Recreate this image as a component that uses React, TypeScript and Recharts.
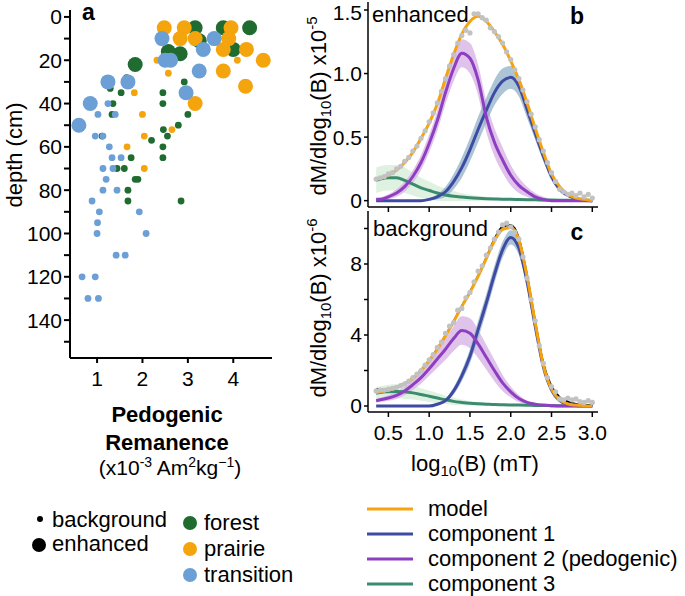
import { ScatterChart, ComposedChart, Scatter, Line, Area, XAxis, YAxis } from 'recharts';

const FONT = '"Liberation Sans", Arial, Helvetica, sans-serif';

// panel a: [pedogenic remanence, depth]
const forestEnhanced = [[3.16, 5], [3.78, 5], [4.36, 5], [3.25, 11], [2.57, 16], [2.83, 17], [4.0, 15], [1.84, 22]];
const prairieEnhanced = [[2.48, 5], [2.92, 5], [3.95, 5], [2.83, 10], [3.16, 10], [3.9, 10], [3.78, 15], [4.29, 15], [4.66, 20], [3.78, 25], [4.27, 32], [3.16, 40]];
const transitionEnhanced = [[2.43, 10], [3.58, 10], [3.34, 15], [2.5, 20], [2.62, 20], [3.25, 25], [2.96, 35], [1.24, 30], [1.68, 30], [0.85, 40], [0.6, 50]];
const forestBackground = [[2.92, 30], [2.45, 35], [2.45, 40], [3.0, 45], [1.53, 35], [1.35, 40], [1.33, 45], [1.29, 33], [1.65, 28], [2.79, 50], [2.46, 52], [2.55, 55], [2.2, 57], [2.45, 60], [2.45, 65], [1.75, 65], [1.11, 55], [1.44, 70], [1.6, 70], [1.84, 75], [1.9, 75], [1.68, 80], [1.68, 85], [2.85, 85]];
const prairieBackground = [[2.32, 20], [2.57, 26], [4.09, 20], [1.82, 35], [2.0, 45], [2.65, 52], [2.04, 55], [1.66, 60], [2.04, 70]];
const transitionBackground = [[1.24, 40], [1.02, 45], [1.4, 45], [0.96, 55], [1.13, 55], [1.27, 60], [1.33, 65], [1.53, 65], [1.13, 70], [1.35, 70], [1.2, 75], [1.13, 80], [1.44, 80], [0.89, 85], [1.05, 90], [1.93, 90], [1.01, 95], [1.0, 100], [2.08, 100], [1.42, 110], [1.62, 110], [0.67, 120], [0.96, 120], [0.8, 130], [1.03, 130]];

const depthTicks = [0, 10, 20, 30, 40, 50, 60, 70, 80, 90, 100, 110, 120, 130, 140, 150];
const remTicks = [1, 2, 3, 4];

// panels b, c: log10(B) grid
const logB = [0.35, 0.4, 0.5, 0.6, 0.7, 0.8, 0.9, 1.0, 1.1, 1.2, 1.3, 1.4, 1.5, 1.6, 1.7, 1.8, 1.9, 2.0, 2.1, 2.2, 2.3, 2.4, 2.5, 2.6, 2.7, 2.8, 2.9, 3.0];
const logTicks = [0.5, 1.0, 1.5, 2.0, 2.5, 3.0];

// enhanced (x1e-5)
const modelB = [0.17, 0.18, 0.2, 0.24, 0.3, 0.38, 0.49, 0.61, 0.76, 0.96, 1.15, 1.31, 1.41, 1.45, 1.41, 1.33, 1.23, 1.1, 0.95, 0.77, 0.57, 0.38, 0.21, 0.11, 0.05, 0.02, 0.01, 0];
const comp1B = [0, 0, 0, 0, 0, 0, 0, 0.01, 0.03, 0.07, 0.15, 0.26, 0.4, 0.56, 0.71, 0.85, 0.94, 0.97, 0.9, 0.72, 0.53, 0.35, 0.19, 0.09, 0.04, 0.015, 0.005, 0];
const comp2B = [0.01, 0.01, 0.03, 0.06, 0.11, 0.19, 0.3, 0.45, 0.63, 0.85, 1.04, 1.16, 1.12, 0.95, 0.66, 0.46, 0.32, 0.2, 0.12, 0.07, 0.03, 0.01, 0, 0, 0, 0, 0, 0];
const comp3B = [0.16, 0.17, 0.18, 0.18, 0.16, 0.13, 0.1, 0.08, 0.06, 0.045, 0.035, 0.028, 0.022, 0.018, 0.015, 0.013, 0.011, 0.01, 0.009, 0.008, 0.007, 0.006, 0.005, 0.004, 0.003, 0.002, 0.001, 0];
const band1B = [0, 0, 0, 0, 0, 0, 0, 0.01, 0.02, 0.04, 0.06, 0.08, 0.09, 0.1, 0.1, 0.1, 0.1, 0.09, 0.08, 0.07, 0.05, 0.04, 0.03, 0.02, 0.01, 0.005, 0, 0];
const band2B = [0.01, 0.015, 0.02, 0.03, 0.04, 0.05, 0.06, 0.07, 0.08, 0.09, 0.1, 0.11, 0.12, 0.12, 0.12, 0.11, 0.1, 0.08, 0.06, 0.04, 0.03, 0.02, 0.01, 0, 0, 0, 0, 0];
const band3B = [0.1, 0.1, 0.1, 0.1, 0.1, 0.09, 0.08, 0.07, 0.06, 0.05, 0.04, 0.03, 0.025, 0.02, 0.015, 0.012, 0.01, 0.01, 0.008, 0.008, 0.006, 0.005, 0.005, 0.004, 0.003, 0.002, 0.001, 0];
const dotsB = [[0.35, 0.17], [0.4, 0.18], [0.45, 0.19], [0.5, 0.21], [0.55, 0.22], [0.6, 0.25], [0.65, 0.27], [0.7, 0.31], [0.75, 0.34], [0.8, 0.39], [0.85, 0.43], [0.9, 0.49], [0.95, 0.55], [1.0, 0.62], [1.05, 0.69], [1.1, 0.77], [1.15, 0.86], [1.2, 0.96], [1.25, 1.06], [1.3, 1.15], [1.35, 1.24], [1.4, 1.3], [1.45, 1.34], [1.5, 1.32], [1.55, 1.47], [1.6, 1.47], [1.65, 1.44], [1.7, 1.42], [1.75, 1.36], [1.8, 1.33], [1.85, 1.29], [1.9, 1.24], [1.95, 1.17], [2.0, 1.11], [2.05, 1.03], [2.1, 0.96], [2.15, 0.87], [2.2, 0.78], [2.25, 0.68], [2.3, 0.58], [2.35, 0.48], [2.4, 0.39], [2.45, 0.3], [2.5, 0.22], [2.55, 0.15], [2.6, 0.09], [2.65, 0.07], [2.7, 0.05], [2.75, 0.06], [2.8, 0.04], [2.85, 0.06], [2.9, 0.03], [2.95, 0.05], [3.0, 0.02]];

// background (x1e-6)
const modelC = [0.75, 0.8, 0.9, 1.05, 1.25, 1.55, 2.0, 2.55, 3.2, 3.95, 4.75, 5.6, 6.4, 7.3, 8.3, 9.3, 9.95, 10.05, 9.35, 7.3, 4.7, 2.3, 0.95, 0.35, 0.12, 0.05, 0.02, 0];
const smoothC = [0.95, 0.93, 0.95, 1.08, 1.27, 1.57, 2.02, 2.57, 3.22, 3.97, 4.77, 5.62, 6.42, 7.33, 8.35, 9.4, 10.1, 10.2, 9.45, 7.35, 4.75, 2.4, 1.1, 0.5, 0.25, 0.12, 0.06, 0.03];
const comp1C = [0, 0, 0, 0, 0, 0, 0, 0, 0.1, 0.3, 0.85, 1.7, 2.8, 4.3, 5.8, 7.4, 8.8, 9.5, 8.9, 7.0, 4.5, 2.2, 0.9, 0.3, 0.1, 0.03, 0.01, 0];
const comp2C = [0.3, 0.35, 0.45, 0.6, 0.85, 1.2, 1.6, 2.1, 2.65, 3.2, 3.8, 4.25, 4.1, 3.5, 2.75, 2.0, 1.3, 0.8, 0.42, 0.2, 0.1, 0.05, 0.02, 0, 0, 0, 0, 0];
const comp3C = [0.72, 0.76, 0.8, 0.82, 0.8, 0.74, 0.65, 0.55, 0.45, 0.35, 0.26, 0.2, 0.15, 0.12, 0.1, 0.08, 0.07, 0.06, 0.05, 0.04, 0.03, 0.03, 0.02, 0.02, 0.01, 0.01, 0.01, 0];
const band1C = [0, 0, 0, 0, 0, 0, 0, 0, 0.05, 0.1, 0.2, 0.3, 0.4, 0.5, 0.5, 0.5, 0.45, 0.4, 0.4, 0.35, 0.3, 0.2, 0.1, 0.05, 0.02, 0, 0, 0];
const band2C = [0.1, 0.12, 0.15, 0.2, 0.25, 0.3, 0.35, 0.4, 0.5, 0.6, 0.7, 0.8, 0.85, 0.8, 0.7, 0.6, 0.45, 0.3, 0.2, 0.1, 0.05, 0.03, 0.01, 0, 0, 0, 0, 0];
const band3C = [0.35, 0.35, 0.4, 0.4, 0.4, 0.38, 0.35, 0.32, 0.28, 0.24, 0.2, 0.16, 0.12, 0.1, 0.08, 0.06, 0.05, 0.04, 0.03, 0.03, 0.02, 0.02, 0.01, 0.01, 0.01, 0, 0, 0];
const dotsC = [[0.35, 0.85], [0.4, 0.9], [0.45, 0.9], [0.5, 0.95], [0.55, 1.0], [0.6, 1.05], [0.65, 1.15], [0.7, 1.25], [0.75, 1.4], [0.8, 1.6], [0.85, 1.8], [0.9, 2.0], [0.95, 2.3], [1.0, 2.6], [1.05, 2.9], [1.1, 3.3], [1.15, 3.6], [1.2, 4.1], [1.25, 4.5], [1.3, 4.7], [1.35, 5.4], [1.4, 5.5], [1.45, 6.1], [1.5, 6.4], [1.55, 7.0], [1.6, 7.6], [1.65, 7.9], [1.7, 8.5], [1.75, 8.9], [1.8, 9.4], [1.85, 9.8], [1.9, 10.2], [1.95, 10.3], [2.0, 10.1], [2.05, 9.8], [2.1, 9.4], [2.15, 8.4], [2.2, 7.2], [2.25, 6.0], [2.3, 4.8], [2.35, 3.4], [2.4, 2.4], [2.45, 1.6], [2.5, 1.1], [2.55, 0.8], [2.6, 0.4], [2.65, 0.35], [2.7, 0.45], [2.75, 0.35], [2.8, 0.4], [2.85, 0.25], [2.9, 0.2], [2.95, 0.3], [3.0, 0.2]];

const GREEN = '#1f6b30';
const ORANGE = '#f4a40c';
const BLUE = '#6b9fd6';
const C_MODEL = '#f5a30f';
const C1 = '#3f4ba3';
const C2 = '#8e3ec0';
const C3 = '#3b8b6e';

const toPts = (big: number[][], small: number[][]) => [
  ...small.map(([x, d]) => ({ x, d, big: false })),
  ...big.map(([x, d]) => ({ x, d, big: true })),
];

const rowsB = logB.map((x, i) => ({
  x,
  model: modelB[i],
  c1: comp1B[i],
  c2: comp2B[i],
  c3: comp3B[i],
  b1: [comp1B[i] - band1B[i], comp1B[i] + band1B[i]],
  b2: [comp2B[i] - band2B[i], comp2B[i] + band2B[i]],
  b3: [comp3B[i] - band3B[i], comp3B[i] + band3B[i]],
}));

const rowsC = logB.map((x, i) => ({
  x,
  model: modelC[i],
  smooth: smoothC[i],
  c1: comp1C[i],
  c2: comp2C[i],
  c3: comp3C[i],
  b1: [comp1C[i] - band1C[i], comp1C[i] + band1C[i]],
  b2: [comp2C[i] - band2C[i], comp2C[i] + band2C[i]],
  b3: [comp3C[i] - band3C[i], comp3C[i] + band3C[i]],
}));

const axisStroke = { stroke: '#000', strokeWidth: 1.5 };
const tickText = { fill: '#000', fontSize: 21, fontFamily: FONT };

const dot = (color: string) => (p: any) => (
  <circle cx={p.cx} cy={p.cy} r={p.payload.big ? 7.5 : 3.4} fill={color} />
);
const grayDot = (p: any) => <circle cx={p.cx} cy={p.cy} r={2.6} fill="#c2c2c2" />;

function SpectrumPanel({ rows, dots, domainY, ticksY, fmtY, showX, smooth, height, top, bottom }: any) {
  return (
    <ComposedChart width={320} height={height} data={rows} margin={{ top, right: 10, bottom, left: 0 }}>
      <XAxis
        dataKey="x"
        type="number"
        domain={[0.25, 3.07]}
        ticks={logTicks}
        allowDataOverflow
        height={showX ? 40 : 10}
        tickSize={5}
        tickMargin={8}
        tickFormatter={(v: number) => (showX ? v.toFixed(1) : '')}
        axisLine={axisStroke}
        tickLine={axisStroke}
        tick={tickText}
      />
      <XAxis xAxisId="top" orientation="top" dataKey="x" type="number" domain={[0.25, 3.07]} height={0} tick={false} tickLine={false} axisLine={axisStroke} />
      <YAxis
        type="number"
        domain={domainY}
        ticks={ticksY}
        allowDataOverflow
        width={80}
        tickSize={4}
        tickMargin={2}
        tickFormatter={fmtY}
        axisLine={axisStroke}
        tickLine={axisStroke}
        tick={tickText}
      />
      <YAxis yAxisId="right" orientation="right" type="number" domain={domainY} width={0} tick={false} tickLine={false} axisLine={axisStroke} />
      <Area type="monotone" dataKey="b3" stroke="none" fill="#dcf1df" fillOpacity={0.9} isAnimationActive={false} />
      <Area type="monotone" dataKey="b2" stroke="none" fill="#d7b4e5" fillOpacity={0.8} isAnimationActive={false} />
      <Area type="monotone" dataKey="b1" stroke="none" fill="#8fb0c8" fillOpacity={0.75} isAnimationActive={false} />
      <Scatter data={dots.map(([x, y]: number[]) => ({ x, y }))} dataKey="y" shape={grayDot} isAnimationActive={false} />
      <Line type="monotone" dataKey="c3" stroke={C3} strokeWidth={3} dot={false} isAnimationActive={false} />
      <Line type="monotone" dataKey="c1" stroke={C1} strokeWidth={3} dot={false} isAnimationActive={false} />
      <Line type="monotone" dataKey="c2" stroke={C2} strokeWidth={3} dot={false} isAnimationActive={false} />
      {smooth && <Line type="monotone" dataKey="smooth" stroke="#000" strokeWidth={2} dot={false} isAnimationActive={false} />}
      <Line type="monotone" dataKey="model" stroke={C_MODEL} strokeWidth={3} dot={false} isAnimationActive={false} />
    </ComposedChart>
  );
}

const legendLines = [
  { label: 'model', color: C_MODEL },
  { label: 'component 1', color: C1 },
  { label: 'component 2 (pedogenic)', color: C2 },
  { label: 'component 3', color: C3 },
];
const legendCover = [
  { label: 'forest', color: GREEN },
  { label: 'prairie', color: ORANGE },
  { label: 'transition', color: BLUE },
];

export default function App() {
  return (
    <div style={{ position: 'absolute', left: 0, top: 0, width: 685, height: 596, background: '#fff', fontFamily: FONT }}>
      <div style={{ position: 'absolute', left: 0, top: 0 }}>
        <ScatterChart width={282} height={400} margin={{ top: 10, right: 10, bottom: 0, left: 0 }}>
          <XAxis
            dataKey="x"
            type="number"
            domain={[0.404, 4.853]}
            ticks={remTicks}
            allowDataOverflow
            height={42}
            tickSize={5}
            tickMargin={8}
            axisLine={{ stroke: '#000', strokeWidth: 2 }}
            tickLine={{ stroke: '#000', strokeWidth: 2 }}
            tick={tickText}
          />
          <YAxis
            dataKey="d"
            type="number"
            reversed
            domain={[-3.2, 157.5]}
            ticks={depthTicks}
            allowDataOverflow
            width={70}
            tickSize={6}
            tickMargin={2}
            tickFormatter={(v: number) => (v % 20 === 0 ? String(v) : '')}
            axisLine={{ stroke: '#000', strokeWidth: 2 }}
            tickLine={{ stroke: '#000', strokeWidth: 2 }}
            tick={tickText}
          />
          <Scatter data={toPts(forestEnhanced, forestBackground)} shape={dot(GREEN)} isAnimationActive={false} />
          <Scatter data={toPts(prairieEnhanced, prairieBackground)} shape={dot(ORANGE)} isAnimationActive={false} />
          <Scatter data={toPts(transitionEnhanced, transitionBackground)} shape={dot(BLUE)} isAnimationActive={false} />
        </ScatterChart>
      </div>

      <div style={{ position: 'absolute', left: 288, top: 0 }}>
        <SpectrumPanel
          rows={rowsB}
          dots={dotsB}
          domainY={[-0.05, 1.563]}
          ticksY={[0, 0.5, 1.0, 1.5]}
          fmtY={(v: number) => (v === 0 ? '0' : v.toFixed(1))}
          showX={false}
          smooth={false}
          height={220}
          top={2}
          bottom={3}
        />
      </div>

      <div style={{ position: 'absolute', left: 288, top: 200 }}>
        <SpectrumPanel
          rows={rowsC}
          dots={dotsC}
          domainY={[-0.338, 10.986]}
          ticksY={[0, 2, 4, 6, 8, 10]}
          fmtY={(v: number) => (v % 4 === 0 ? String(v) : '')}
          showX
          smooth
          height={280}
          top={11}
          bottom={28}
        />
      </div>

      <svg width={685} height={596} style={{ position: 'absolute', left: 0, top: 0, pointerEvents: 'none' }} fontFamily={FONT}>
        <text x={82} y={20} fontSize={23} fontWeight="bold">a</text>
        <text x={577} y={24} fontSize={23} fontWeight="bold" textAnchor="middle">b</text>
        <text x={577} y={240} fontSize={23} fontWeight="bold" textAnchor="middle">c</text>
        <text x={372} y={22} fontSize={22}>enhanced</text>
        <text x={373} y={236} fontSize={22}>background</text>

        <text transform="translate(22,155) rotate(-90)" fontSize={22} textAnchor="middle">depth (cm)</text>
        <text x={167} y={422} fontSize={22} fontWeight="bold" textAnchor="middle">Pedogenic</text>
        <text x={167} y={450} fontSize={22} fontWeight="bold" textAnchor="middle">Remanence</text>
        <text x={170} y={475} fontSize={21} textAnchor="middle">
          (x10<tspan fontSize={14} dy={-8}>-3</tspan>
          <tspan dy={8}> Am</tspan>
          <tspan fontSize={14} dy={-8}>2</tspan>
          <tspan dy={8}>kg</tspan>
          <tspan fontSize={14} dy={-8}>−1</tspan>
          <tspan dy={8}>)</tspan>
        </text>

        <text transform="translate(326,106) rotate(-90)" fontSize={22} textAnchor="middle">
          dM/dlog<tspan fontSize={15} dy={5}>10</tspan>
          <tspan dy={-5}>(B) x10</tspan>
          <tspan fontSize={15} dy={-9}>-5</tspan>
        </text>
        <text transform="translate(326,308) rotate(-90)" fontSize={22} textAnchor="middle">
          dM/dlog<tspan fontSize={15} dy={5}>10</tspan>
          <tspan dy={-5}>(B) x10</tspan>
          <tspan fontSize={15} dy={-9}>-6</tspan>
        </text>
        <text x={475} y={471} fontSize={22} textAnchor="middle">
          log<tspan fontSize={15} dy={5}>10</tspan>
          <tspan dy={-5}>(B) (mT)</tspan>
        </text>

        <circle cx={40} cy={519} r={3} fill="#000" />
        <text x={52} y={527} fontSize={22}>background</text>
        <circle cx={39} cy={545} r={7} fill="#000" />
        <text x={52} y={551} fontSize={22}>enhanced</text>
        {legendCover.map((d, i) => (
          <g key={d.label}>
            <circle cx={190} cy={523 + i * 26} r={7} fill={d.color} />
            <text x={204} y={530 + i * 26} fontSize={22}>{d.label}</text>
          </g>
        ))}
        {legendLines.map((d, i) => (
          <g key={d.label}>
            <line x1={367} x2={413} y1={509 + i * 25} y2={509 + i * 25} stroke={d.color} strokeWidth={3} />
            <text x={428} y={516 + i * 25} fontSize={22}>{d.label}</text>
          </g>
        ))}
      </svg>
    </div>
  );
}
